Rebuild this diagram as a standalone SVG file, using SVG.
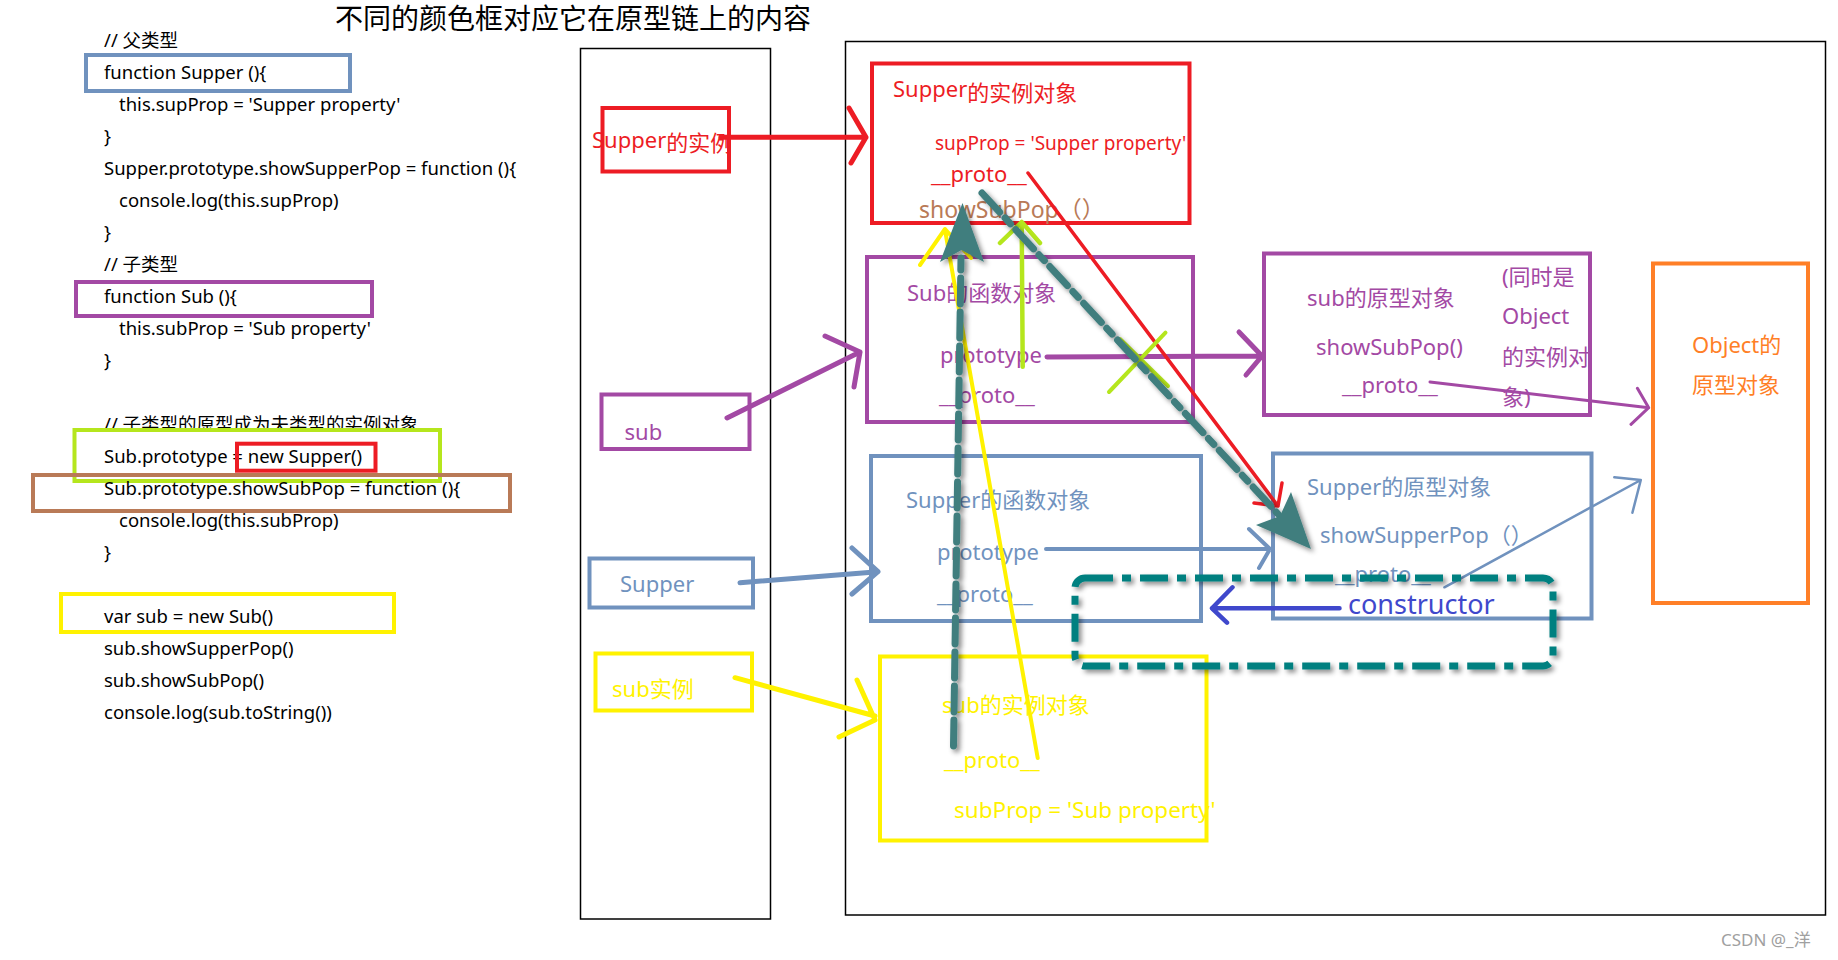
<svg xmlns="http://www.w3.org/2000/svg" width="1838" height="960" viewBox="0 0 1838 960">
<style>
text{font-family:"Noto Sans","Noto Sans CJK SC",sans-serif}
.title{font-family:"Noto Sans CJK SC",sans-serif;font-size:28px;fill:#000}
.code{font-size:18.5px;fill:#000}
.lbl{font-size:22px}
.frame{fill:none;stroke:#000;stroke-width:1.5}
.box{fill:none;stroke-width:4}
.ln{fill:none;stroke-linecap:round;stroke-linejoin:round}
.red{fill:#ED1C24}.sred{stroke:#ED1C24}
.pur{fill:#A349A4}.spur{stroke:#A349A4}
.blu{fill:#7092BE}.sblu{stroke:#7092BE}
.yel{fill:#FFF200}.syel{stroke:#FFF200}
.grn{stroke:#B5E61D}
.brn{fill:#B97A57}.sbrn{stroke:#B97A57}
.org{fill:#FF7F27}.sorg{stroke:#FF7F27}
.dkb{fill:#3F48CC}.sdkb{stroke:#3F48CC}
.teal{stroke:#3F7E7E}
</style>
<defs>
<filter id="sh" x="-20%" y="-20%" width="140%" height="140%">
<feDropShadow dx="3" dy="3" stdDeviation="2.5" flood-color="#000" flood-opacity="0.45"/>
</filter>
</defs>
<rect width="1838" height="960" fill="#fff"/>
<text class="title" x="335" y="28.5">不同的颜色框对应它在原型链上的内容</text>

<g id="code">
<text class="code" x="104" y="47">// 父类型</text>
<text class="code" x="104" y="79">function Supper (){</text>
<text class="code" x="119" y="111">this.supProp = 'Supper property'</text>
<text class="code" x="104" y="143">}</text>
<text class="code" x="104" y="175">Supper.prototype.showSupperPop = function (){</text>
<text class="code" x="119" y="207">console.log(this.supProp)</text>
<text class="code" x="104" y="239">}</text>
<text class="code" x="104" y="271">// 子类型</text>
<text class="code" x="104" y="303">function Sub (){</text>
<text class="code" x="119" y="335">this.subProp = 'Sub property'</text>
<text class="code" x="104" y="367">}</text>
<text class="code" x="104" y="431">// 子类型的原型成为夫类型的实例对象</text>
<rect x="74.5" y="430" width="365.5" height="51" fill="#fff" stroke="#B5E61D" stroke-width="4"/>
<text class="code" x="104" y="463">Sub.prototype = new Supper()</text>
<text class="code" x="104" y="495">Sub.prototype.showSubPop = function (){</text>
<text class="code" x="119" y="527">console.log(this.subProp)</text>
<text class="code" x="104" y="559">}</text>
<text class="code" x="104" y="623">var sub = new Sub()</text>
<text class="code" x="104" y="655">sub.showSupperPop()</text>
<text class="code" x="104" y="687">sub.showSubPop()</text>
<text class="code" x="104" y="719">console.log(sub.toString())</text>
<rect class="box sblu" x="86" y="55" width="264" height="36"/>
<rect class="box spur" x="76" y="282" width="296" height="34"/>
<rect class="box sbrn" x="33" y="475" width="477" height="36"/>
<rect class="box sred" x="237" y="443.7" width="138.5" height="27"/>
<rect class="box syel" x="61" y="594" width="333" height="38" stroke-width="4.5"/>
</g>

<rect class="frame" x="580.5" y="48.5" width="190" height="870.5"/>
<rect class="frame" x="845.5" y="41.5" width="980" height="873.5"/>

<g id="mid-supper-instance">
<rect class="box sred" x="602.5" y="108" width="126.5" height="63.5"/>
<text class="lbl red" x="592" y="148">Supper<tspan dy="3">的实例</tspan></text>
</g>
<g id="mid-sub">
<rect class="box spur" x="601.5" y="394.5" width="148" height="54.5" stroke-width="3.5"/>
<text class="lbl pur" x="624.5" y="440">sub</text>
</g>
<g id="mid-supper">
<rect class="box sblu" x="589.5" y="558.5" width="163.5" height="49" stroke-width="3.5"/>
<text class="lbl blu" x="620" y="592">Supper</text>
</g>
<g id="mid-sub-instance">
<rect class="box syel" x="595.5" y="653.5" width="156.5" height="57"/>
<text class="lbl yel" x="612" y="697">sub实例</text>
</g>

<g id="supper-instance-object">
<rect class="box sred" x="872" y="63.5" width="317.5" height="159.5"/>
<text class="lbl red" x="893" y="97">Supper<tspan dy="4">的实例对象</tspan></text>
<text class="red" x="935" y="150" font-size="19px">supProp = 'Supper property'</text>
<text class="lbl red" x="931" y="182">__proto__</text>
<text class="brn" x="919" y="218" font-size="23px">showSubPop（）</text>
</g>

<g id="sub-function-object">
<rect class="box spur" x="867" y="257" width="326" height="165"/>
<text class="lbl pur" x="907" y="301">Sub的函数对象</text>
<text class="lbl pur" x="940" y="363">prototype</text>
<text class="lbl pur" x="939" y="403">__proto__</text>
</g>

<g id="sub-prototype-object">
<rect class="box spur" x="1264" y="253.5" width="326" height="161.5"/>
<text class="lbl pur" x="1307" y="306">sub的原型对象</text>
<text class="lbl pur" x="1316" y="355">showSubPop()</text>
<text class="lbl pur" x="1342" y="393">__proto__</text>
<text class="lbl pur" x="1502" y="285">(同时是</text>
<text class="lbl pur" x="1502" y="324">Object</text>
<text class="lbl pur" x="1502" y="365">的实例对</text>
<text class="lbl pur" x="1502" y="405">象)</text>
</g>

<g id="object-prototype">
<rect class="box sorg" x="1653" y="263.5" width="155" height="339.5"/>
<text class="lbl org" x="1692" y="353">Object的</text>
<text class="lbl org" x="1692" y="393">原型对象</text>
</g>

<g id="supper-function-object">
<rect class="box sblu" x="871" y="456" width="330" height="165" stroke-width="3.5"/>
<text class="lbl blu" x="906" y="508">Supper的函数对象</text>
<text class="lbl blu" x="937" y="560">prototype</text>
<text class="lbl blu" x="937" y="602">__proto__</text>
</g>

<g id="supper-prototype-object">
<rect class="box sblu" x="1273" y="453.5" width="318.5" height="165" stroke-width="3.5"/>
<text class="lbl blu" x="1307" y="495">Supper的原型对象</text>
<text class="lbl blu" x="1320" y="543">showSupperPop（）</text>
<text class="lbl blu" x="1335" y="582">__proto__</text>
<text class="dkb" x="1348" y="614" font-size="27px">constructor</text>
</g>

<g id="sub-instance-object">
<rect class="box syel" x="880" y="656.5" width="326.5" height="184"/>
<text class="lbl yel" x="942" y="713">sub的实例对象</text>
<text class="lbl yel" x="944" y="768">__proto__</text>
<text class="yel" x="954" y="818" font-size="22.5px">subProp = 'Sub property'</text>
</g>

<g id="connectors">
<path class="ln sred" stroke-width="5" d="M721 137.3H866M849 108L866 137.3L851 163"/>
<path class="ln spur" stroke-width="5" d="M727 418L860 352M825 336L860 352L854 387"/>
<path class="ln sblu" stroke-width="5" d="M740 582.7L878 571.7M852 548L878 571.7L852 594"/>
<path class="ln syel" stroke-width="5" d="M735 677.7L875 716M857 680L875 720L839 737"/>
<path class="ln spur" stroke-width="5" d="M1047 357L1262 356M1239 332L1262 356L1246 375"/>
<path class="ln sblu" stroke-width="4" d="M1046 549H1270M1249 529L1270 549L1259 568"/>
<path class="ln spur" stroke-width="3" d="M1430 382L1648.7 407.7M1637.4 388.3L1648.7 407.7L1631 424.3"/>
<path class="ln sblu" stroke-width="2.5" d="M1444.4 587.3L1640.8 480M1614.3 477.3L1640.8 480L1632.4 512.7"/>
<path class="ln sdkb" stroke-width="4.5" d="M1339.5 608.3H1212M1232.5 587.3L1212 608.3L1227 622.7"/>
<path class="ln sred" stroke-width="3.5" d="M1028 173L1278 506M1282 483L1278 506L1254 503"/>
<path class="ln syel" stroke-width="4" d="M1037.7 758L945 230M920 265L945 229L971 258"/>
<path class="ln grn" stroke-width="4.5" d="M1022.7 366.7L1021.7 222M1000 243L1021.7 222L1040 243"/>
<path class="ln grn" stroke-width="4" d="M1109 392L1165.5 332.7M1120 339L1168 386"/>
<rect x="1075" y="578" width="478" height="88" rx="10" fill="none" stroke="#008080" stroke-width="7" stroke-dasharray="28 9 9 9" filter="url(#sh)"/>
<g filter="url(#sh)">
<path class="ln teal" stroke-width="7" stroke-linecap="butt" stroke-dasharray="26 8" d="M953.5 746L961 258"/>
<polygon fill="#3F7E7E" points="962.5,203 984,262 961.5,250 940,262"/>
<path class="ln teal" stroke-width="7" stroke-linecap="butt" stroke-dasharray="26 8 8 8" d="M982 193L1278 514"/>
<polygon fill="#3F7E7E" points="1311,549 1256,525 1280,516 1291,492"/>
</g>
</g>

<text x="1721" y="946" font-family="Liberation Sans, Noto Sans CJK SC, sans-serif" font-size="17px" fill="#A0A0A0">CSDN @_洋</text>
</svg>
